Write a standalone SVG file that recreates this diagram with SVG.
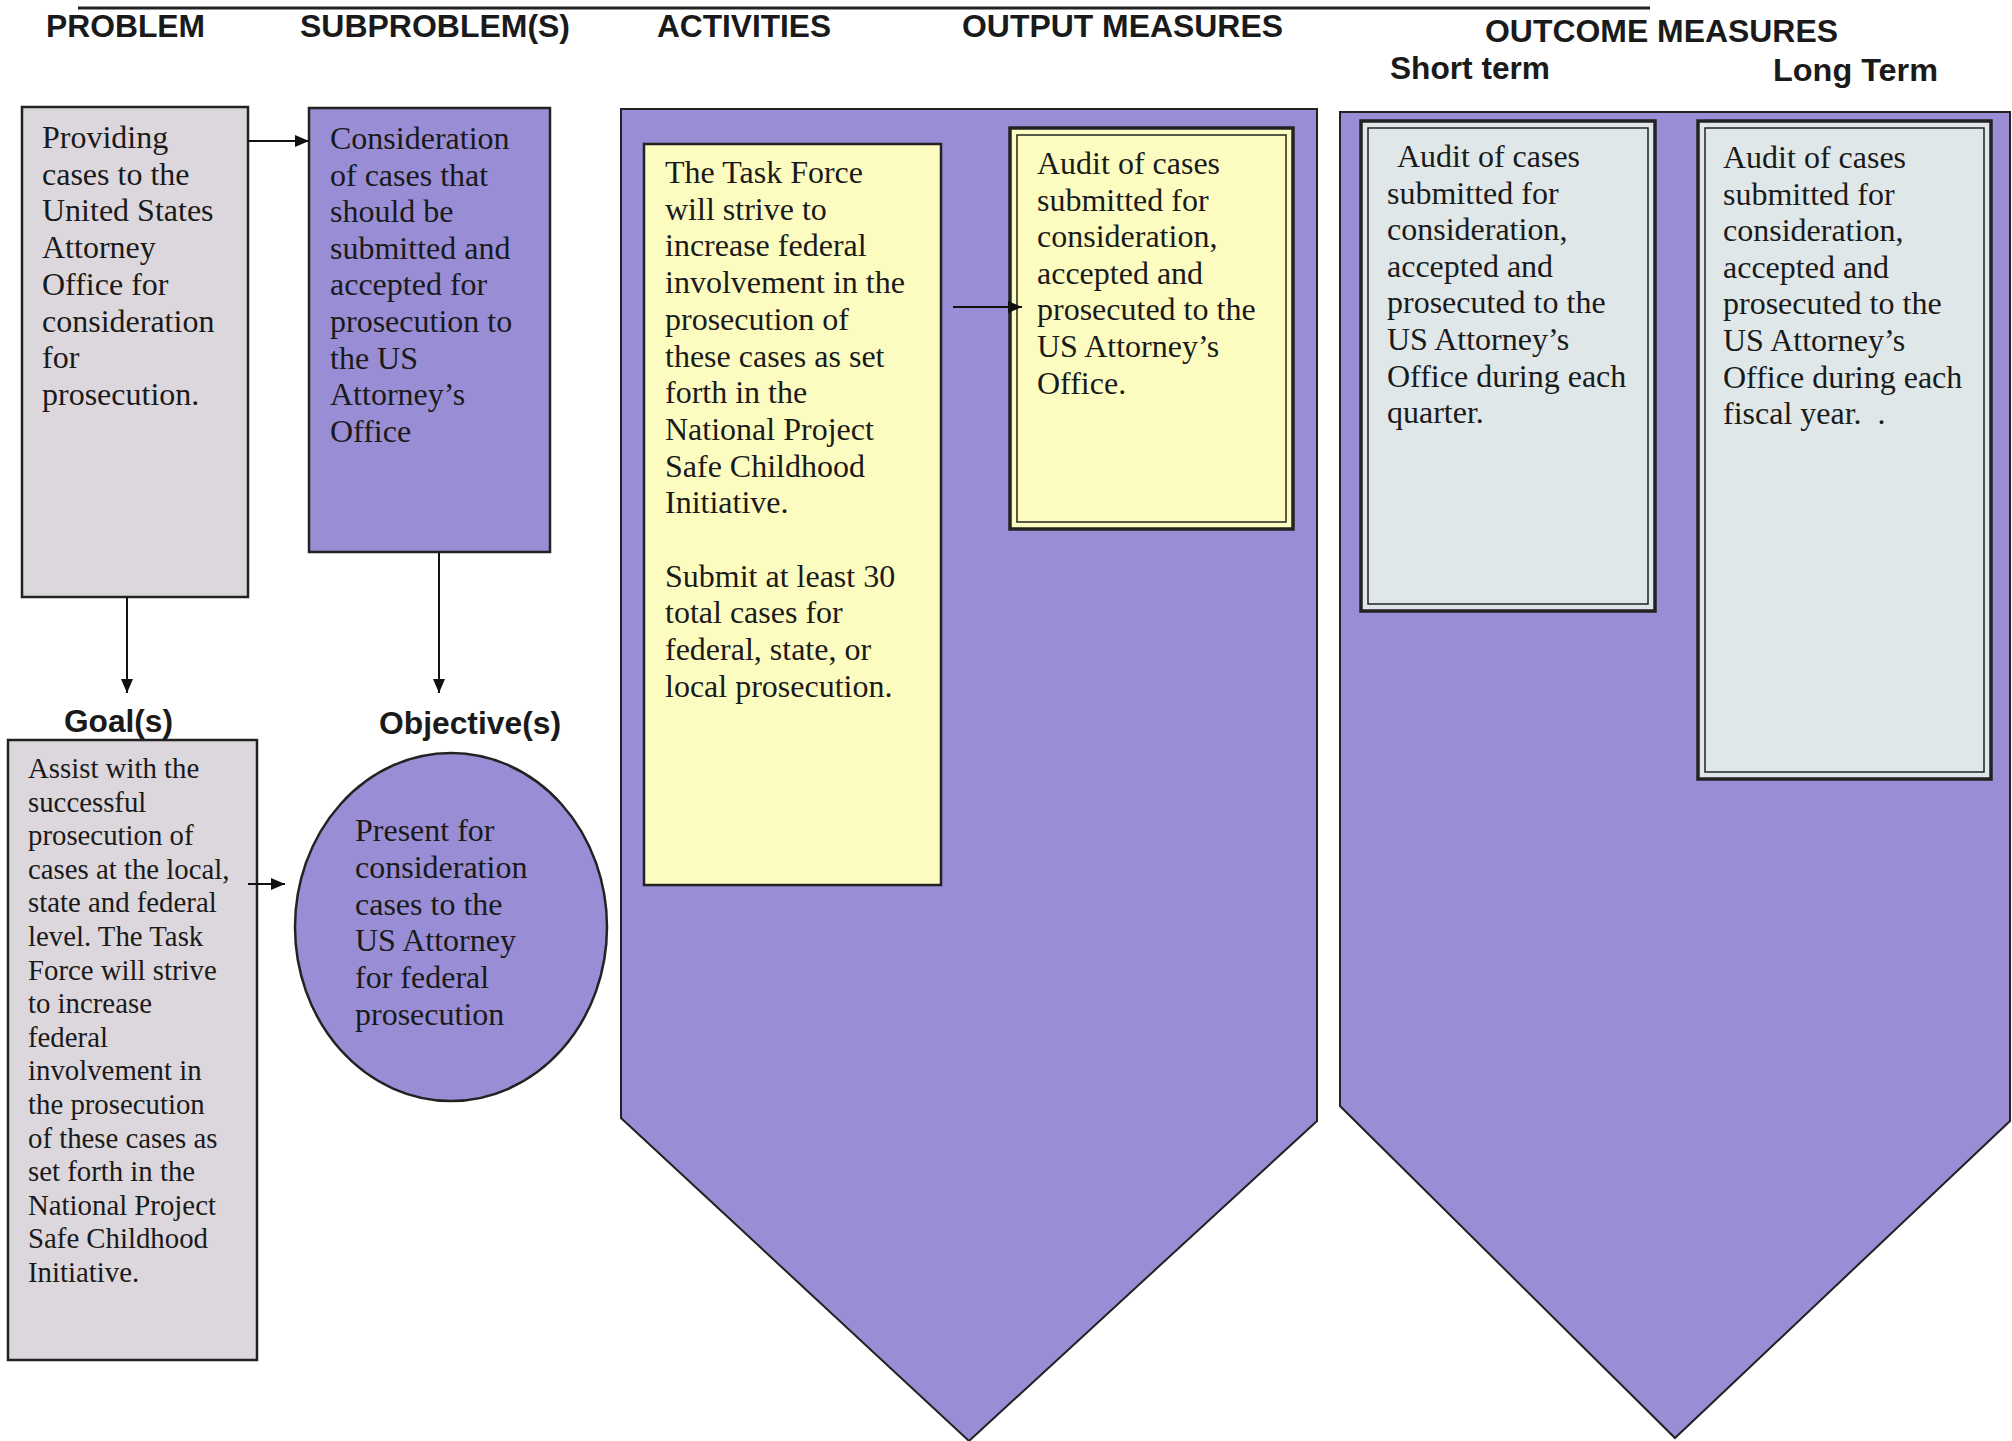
<svg xmlns="http://www.w3.org/2000/svg" width="2012" height="1441" viewBox="0 0 2012 1441">
<defs>
<style>
.hdr{font-family:"Liberation Sans",Arial,sans-serif;font-weight:bold;font-size:32px;fill:#1a1a1a}
.tx{font-family:"Liberation Serif","Times New Roman",serif;font-size:32px;fill:#1a1a1a}
.txs{font-family:"Liberation Serif","Times New Roman",serif;font-size:28.8px;fill:#1a1a1a}
.gray{fill:#dcd7dd;stroke:#222;stroke-width:2.5}
.purple{fill:#998ed5;stroke:#222;stroke-width:2.5}
.big{fill:#998ed5;stroke:#222;stroke-width:2}
.yellow{fill:#fdfcc0;stroke:#222;stroke-width:2.5}
.outer{stroke:#222;stroke-width:3.5}
.inner{fill:none;stroke:#222;stroke-width:1.5}
.conn{stroke:#111;stroke-width:2;fill:none}
</style>
<marker id="ah" markerUnits="userSpaceOnUse" markerWidth="15" markerHeight="15" viewBox="0 0 15 15" refX="14" refY="7.5" orient="auto">
<path d="M0,1.5 L14,7.5 L0,13.5 Z" fill="#111"/>
</marker>
</defs>
<rect width="2012" height="1441" fill="#ffffff"/>

<line x1="78" y1="8" x2="1650" y2="8" stroke="#222" stroke-width="3"/>

<g id="headers">
<text class="hdr" x="46" y="37" textLength="159" lengthAdjust="spacingAndGlyphs">PROBLEM</text>
<text class="hdr" x="300" y="37" textLength="270" lengthAdjust="spacingAndGlyphs">SUBPROBLEM(S)</text>
<text class="hdr" x="657" y="37" textLength="174" lengthAdjust="spacingAndGlyphs">ACTIVITIES</text>
<text class="hdr" x="962" y="37" textLength="321" lengthAdjust="spacingAndGlyphs">OUTPUT MEASURES</text>
<text class="hdr" x="1485" y="42" textLength="353" lengthAdjust="spacingAndGlyphs">OUTCOME MEASURES</text>
<text class="hdr" x="1390" y="79" textLength="160" lengthAdjust="spacingAndGlyphs">Short term</text>
<text class="hdr" x="1773" y="81" textLength="165" lengthAdjust="spacingAndGlyphs">Long Term</text>
<text class="hdr" x="64" y="732" textLength="109" lengthAdjust="spacingAndGlyphs">Goal(s)</text>
<text class="hdr" x="379" y="734" textLength="182" lengthAdjust="spacingAndGlyphs">Objective(s)</text>
</g>

<g id="activities-shape">
<path class="big" d="M621,109 L1317,109 L1317,1121 L969,1441 L621,1118 Z"/>
</g>
<g id="outcome-shape">
<path class="big" d="M1340,112 L2010,112 L2010,1121 L1675,1438 L1340,1106 Z"/>
</g>

<g id="problem">
<rect class="gray" x="22" y="107" width="226" height="490"/>
<text class="tx" x="42" y="148">Providing</text>
<text class="tx" x="42" y="184.7">cases to the</text>
<text class="tx" x="42" y="221.4">United States</text>
<text class="tx" x="42" y="258.1">Attorney</text>
<text class="tx" x="42" y="294.8">Office for</text>
<text class="tx" x="42" y="331.5">consideration</text>
<text class="tx" x="42" y="368.2">for</text>
<text class="tx" x="42" y="404.9">prosecution.</text>
</g>

<g id="subproblem">
<rect class="purple" x="309" y="108" width="241" height="444"/>
<text class="tx" x="330" y="149">Consideration</text>
<text class="tx" x="330" y="185.6">of cases that</text>
<text class="tx" x="330" y="222.2">should be</text>
<text class="tx" x="330" y="258.8">submitted and</text>
<text class="tx" x="330" y="295.4">accepted for</text>
<text class="tx" x="330" y="332">prosecution to</text>
<text class="tx" x="330" y="368.6">the US</text>
<text class="tx" x="330" y="405.2">Attorney’s</text>
<text class="tx" x="330" y="441.8">Office</text>
</g>

<g id="goal">
<rect class="gray" x="8" y="740" width="249" height="620"/>
<text class="txs" x="28" y="778">Assist with the</text>
<text class="txs" x="28" y="811.6">successful</text>
<text class="txs" x="28" y="845.2">prosecution of</text>
<text class="txs" x="28" y="878.8">cases at the local,</text>
<text class="txs" x="28" y="912.4">state and federal</text>
<text class="txs" x="28" y="946">level. The Task</text>
<text class="txs" x="28" y="979.6">Force will strive</text>
<text class="txs" x="28" y="1013.2">to increase</text>
<text class="txs" x="28" y="1046.8">federal</text>
<text class="txs" x="28" y="1080.4">involvement in</text>
<text class="txs" x="28" y="1114">the prosecution</text>
<text class="txs" x="28" y="1147.6">of these cases as</text>
<text class="txs" x="28" y="1181.2">set forth in the</text>
<text class="txs" x="28" y="1214.8">National Project</text>
<text class="txs" x="28" y="1248.4">Safe Childhood</text>
<text class="txs" x="28" y="1282">Initiative.</text>
</g>

<g id="objective">
<ellipse class="purple" cx="451" cy="927" rx="156" ry="174"/>
<text class="tx" x="355" y="841">Present for</text>
<text class="tx" x="355" y="877.8">consideration</text>
<text class="tx" x="355" y="914.6">cases to the</text>
<text class="tx" x="355" y="951.4">US Attorney</text>
<text class="tx" x="355" y="988.2">for federal</text>
<text class="tx" x="355" y="1025">prosecution</text>
</g>

<g id="activity">
<rect class="yellow" x="644" y="144" width="297" height="741"/>
<text class="tx" x="665" y="183">The Task Force</text>
<text class="tx" x="665" y="219.7">will strive to</text>
<text class="tx" x="665" y="256.4">increase federal</text>
<text class="tx" x="665" y="293.1">involvement in the</text>
<text class="tx" x="665" y="329.8">prosecution of</text>
<text class="tx" x="665" y="366.5">these cases as set</text>
<text class="tx" x="665" y="403.2">forth in the</text>
<text class="tx" x="665" y="439.9">National Project</text>
<text class="tx" x="665" y="476.6">Safe Childhood</text>
<text class="tx" x="665" y="513.3">Initiative.</text>
<text class="tx" x="665" y="586.7">Submit at least 30</text>
<text class="tx" x="665" y="623.4">total cases for</text>
<text class="tx" x="665" y="660.1">federal, state, or</text>
<text class="tx" x="665" y="696.8">local prosecution.</text>
</g>

<g id="output">
<rect class="outer" fill="#fdfcc0" x="1010" y="128" width="283" height="401"/>
<rect class="inner" x="1017" y="135" width="269" height="387"/>
<text class="tx" x="1037" y="174">Audit of cases</text>
<text class="tx" x="1037" y="210.6">submitted for</text>
<text class="tx" x="1037" y="247.2">consideration,</text>
<text class="tx" x="1037" y="283.8">accepted and</text>
<text class="tx" x="1037" y="320.4">prosecuted to the</text>
<text class="tx" x="1037" y="357">US Attorney’s</text>
<text class="tx" x="1037" y="393.6">Office.</text>
</g>

<g id="short-term">
<rect class="outer" fill="#dfe7e8" x="1361" y="121" width="294" height="490"/>
<rect class="inner" x="1368" y="128" width="280" height="476"/>
<text class="tx" x="1397" y="167">Audit of cases</text>
<text class="tx" x="1387" y="203.6">submitted for</text>
<text class="tx" x="1387" y="240.2">consideration,</text>
<text class="tx" x="1387" y="276.8">accepted and</text>
<text class="tx" x="1387" y="313.4">prosecuted to the</text>
<text class="tx" x="1387" y="350">US Attorney’s</text>
<text class="tx" x="1387" y="386.6">Office during each</text>
<text class="tx" x="1387" y="423.2">quarter.</text>
</g>

<g id="long-term">
<rect class="outer" fill="#dfe7e8" x="1698" y="121" width="293" height="658"/>
<rect class="inner" x="1705" y="128" width="279" height="644"/>
<text class="tx" x="1723" y="168">Audit of cases</text>
<text class="tx" x="1723" y="204.6">submitted for</text>
<text class="tx" x="1723" y="241.2">consideration,</text>
<text class="tx" x="1723" y="277.8">accepted and</text>
<text class="tx" x="1723" y="314.4">prosecuted to the</text>
<text class="tx" x="1723" y="351">US Attorney’s</text>
<text class="tx" x="1723" y="387.6">Office during each</text>
<text class="tx" x="1723" y="424.2">fiscal year. &#160;.</text>
</g>

<g id="connectors">
<line class="conn" x1="248" y1="141" x2="309" y2="141" marker-end="url(#ah)"/>
<line class="conn" x1="127" y1="597" x2="127" y2="693" marker-end="url(#ah)"/>
<line class="conn" x1="439" y1="552" x2="439" y2="693" marker-end="url(#ah)"/>
<line class="conn" x1="248" y1="884" x2="285" y2="884" marker-end="url(#ah)"/>
<line class="conn" x1="953" y1="307" x2="1022" y2="307" marker-end="url(#ah)"/>
</g>
</svg>
